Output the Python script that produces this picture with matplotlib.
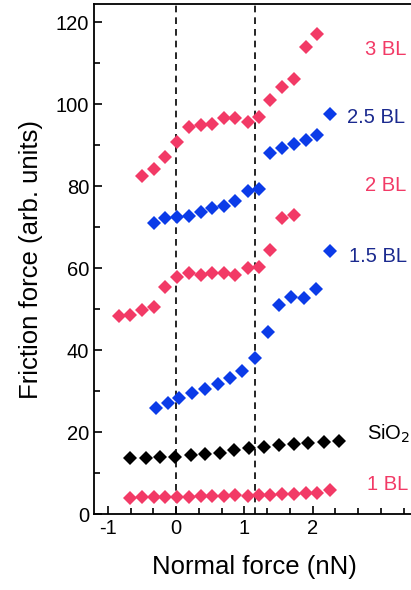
import matplotlib
matplotlib.use("Agg")
import matplotlib.pyplot as plt
from matplotlib.ticker import MultipleLocator

plt.rcParams['font.family'] = ['Liberation Sans', 'DejaVu Sans']
plt.rcParams['axes.unicode_minus'] = False

pink = '#F23A66'
blue = '#0B3BE8'
navy = '#1B2A8F'

# 3 BL
x_3bl = [-0.50, -0.32, -0.16, 0.01, 0.19, 0.36, 0.53, 0.70, 0.87, 1.05, 1.22,
         1.38, 1.55, 1.73, 1.90, 2.07]
y_3bl = [82.4, 84.1, 87.0, 90.8, 94.5, 94.8, 95.1, 96.7, 96.5, 95.5, 96.9,
         101.1, 104.1, 106.0, 114.0, 117.0]

# 2.5 BL
x_25bl = [-0.32, -0.16, 0.01, 0.19, 0.36, 0.53, 0.70, 0.87, 1.05, 1.22,
          1.38, 1.55, 1.73, 1.90, 2.07, 2.25]
y_25bl = [70.9, 72.3, 72.5, 72.8, 73.7, 74.6, 75.1, 76.4, 78.9, 79.3,
          88.0, 89.2, 90.2, 91.2, 92.4, 97.6]

# 2 BL
x_2bl = [-0.84, -0.67, -0.50, -0.32, -0.16, 0.01, 0.19, 0.36, 0.53, 0.70, 0.87,
         1.05, 1.22, 1.38, 1.55, 1.73]
y_2bl = [48.3, 48.5, 49.8, 50.6, 55.3, 57.7, 58.7, 58.3, 58.7, 58.7, 58.3,
         59.9, 60.3, 64.4, 72.1, 72.9]

# 1.5 BL
x_15bl = [-0.30, -0.12, 0.05, 0.24, 0.43, 0.61, 0.79, 0.97, 1.16,
          1.34, 1.51, 1.69, 1.88, 2.05, 2.25]
y_15bl = [25.8, 27.0, 28.2, 29.4, 30.5, 31.7, 33.2, 34.9, 38.0,
          44.5, 51.0, 53.0, 52.6, 55.0, 64.1]

# SiO2
x_sio2 = [-0.67, -0.44, -0.24, -0.01, 0.22, 0.43, 0.64, 0.85, 1.07, 1.29,
          1.50, 1.72, 1.93, 2.16, 2.38]
y_sio2 = [13.6, 13.6, 14.0, 14.0, 14.4, 14.6, 15.0, 15.6, 16.0, 16.4,
          16.8, 17.1, 17.4, 17.6, 17.8]

# 1 BL
x_1bl = [-0.67, -0.50, -0.33, -0.16, 0.01, 0.19, 0.36, 0.53, 0.70, 0.87,
         1.05, 1.22, 1.38, 1.55, 1.73, 1.90, 2.07, 2.25]
y_1bl = [3.8, 4.05, 4.05, 4.2, 4.2, 4.2, 4.4, 4.5, 4.5, 4.6,
         4.5, 4.6, 4.6, 4.9, 5.0, 5.2, 5.2, 5.9]

# label text, x, y, color
labels = [("3 BL", 2.76, 113.2, pink),
          ("2.5 BL", 2.51, 96.8, navy),
          ("2 BL", 2.76, 80.2, pink),
          ("1.5 BL", 2.53, 62.8, navy),
          ("SiO$_2$", 2.80, 19.6, 'black'),
          ("1 BL", 2.80, 7.1, pink)]

fig = plt.figure(figsize=(4.11, 5.90), dpi=100)
ax = fig.add_axes([0.229, 0.1288, 0.781, 0.8644])

ax.axvline(0, color='black', ls='--', lw=1.2, dashes=(4, 3), zorder=1)
ax.axvline(1.15, color='black', ls='--', lw=1.2, dashes=(4, 3), zorder=1)

ms = 6.8
series = [(x_3bl, y_3bl, pink), (x_25bl, y_25bl, blue), (x_2bl, y_2bl, pink),
          (x_15bl, y_15bl, blue), (x_sio2, y_sio2, 'black'), (x_1bl, y_1bl, pink)]
for xs, ys, c in series:
    ax.plot(xs, ys, 'D', color=c, ms=ms, mew=0, zorder=3)

for txt, tx, ty, c in labels:
    ax.text(tx, ty, txt, color=c, fontsize=14.5, va='center', ha='left')

ax.set_xlim(-1.2, 3.5)
ax.set_ylim(0, 124.4)
ax.set_xticks([-1, 0, 1, 2])
ax.xaxis.set_minor_locator(MultipleLocator(1 / 3))
ax.yaxis.set_major_locator(MultipleLocator(20))
ax.yaxis.set_minor_locator(MultipleLocator(10))
ax.tick_params(which='both', direction='in', labelsize=14.5, width=1.2)
ax.tick_params(which='major', length=6)
ax.tick_params(which='minor', length=4)
for s in ax.spines.values():
    s.set_linewidth(1.3)
ax.spines['right'].set_visible(False)

ax.set_xlabel("Normal force (nN)", fontsize=18.5, labelpad=12)
ax.set_ylabel("Friction force (arb. units)", fontsize=18.5, labelpad=9)

fig.savefig("out.png", dpi=100)
